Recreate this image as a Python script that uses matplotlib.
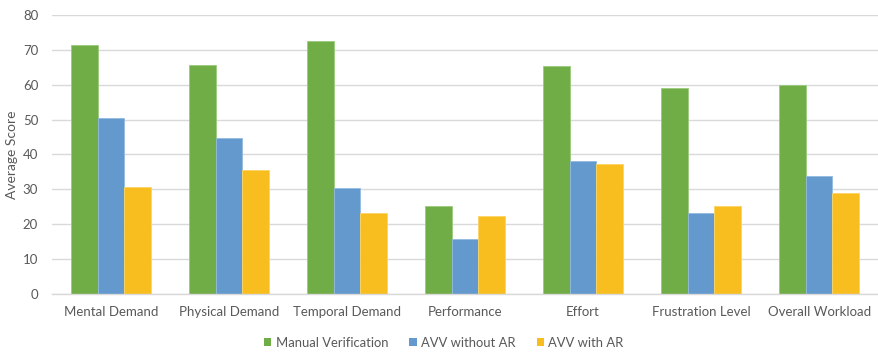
import matplotlib
matplotlib.use("Agg")
import matplotlib.pyplot as plt
import numpy as np

categories = ["Mental Demand", "Physical Demand", "Temporal Demand", "Performance",
              "Effort", "Frustration Level", "Overall Workload"]
manual_verification = [71.4, 65.8, 72.4, 25.3, 65.3, 59.1, 59.8]
avv_without_ar = [50.4, 44.8, 30.3, 15.7, 38.0, 23.1, 33.7]
avv_with_ar = [30.6, 35.5, 23.1, 22.4, 37.3, 25.2, 29.0]
series_names = ["Manual Verification", "AVV without AR", "AVV with AR"]
y_ticks = [0, 10, 20, 30, 40, 50, 60, 70, 80]

colors = ["#71AD47", "#6399CD", "#F8BD1F"]
edges = ["#9BCB7C", "#92BAE0", "#FBD466"]
text_color = "#595959"
grid_color = "#D9D9D9"

plt.rcParams["font.family"] = ["Lato", "DejaVu Sans"]

fig = plt.figure(figsize=(8.79, 3.52), dpi=100)
ax = fig.add_axes([0.0592, 0.1648, 0.9398, 0.7926])

x = np.arange(len(categories))
width = 0.224
for i, (vals, name) in enumerate(zip([manual_verification, avv_without_ar, avv_with_ar], series_names)):
    ax.bar(x + (i - 1) * width, vals, width, color=colors[i], edgecolor=edges[i],
           linewidth=0.6, label=name, zorder=3)

ax.set_xlim(-0.5, len(categories) - 0.5)
ax.set_ylim(0, 80)
ax.set_yticks(y_ticks)
ax.set_xticks(x)
ax.set_xticklabels(categories)
ax.tick_params(axis="both", length=0, colors=text_color, labelsize=9.5)
ax.tick_params(axis="x", pad=9)
ax.tick_params(axis="y", pad=10)
ax.yaxis.grid(True, color=grid_color, linewidth=1, zorder=0)
for s in ["top", "right", "left"]:
    ax.spines[s].set_visible(False)
ax.spines["bottom"].set_color(grid_color)
ax.spines["bottom"].set_linewidth(1)
ax.spines["bottom"].set_zorder(4)

fig.text(12 / 879, 0.5 * (0.1648 + 0.9574), "Average Score", rotation=90,
         ha="center", va="center", color=text_color, fontsize=10)

leg = fig.legend(loc="center", bbox_to_anchor=(0.505, 0.026), ncol=3, frameon=False,
                 fontsize=9.4, handlelength=0.55, handleheight=0.55, handletextpad=0.35,
                 columnspacing=1.6)
for t in leg.get_texts():
    t.set_color(text_color)
for h in leg.legend_handles:
    h.set_linewidth(0)

fig.savefig("out.png", dpi=100)
